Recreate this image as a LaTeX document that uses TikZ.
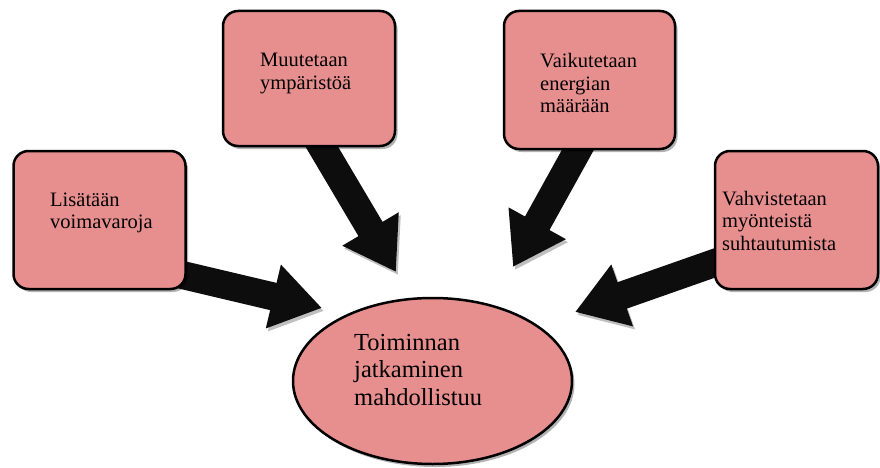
\documentclass[tikz,border=0pt]{standalone}
\usepackage{fontspec}
\setmainfont{Liberation Serif}
\usetikzlibrary{arrows.meta,shapes.geometric,shadows}
\definecolor{boxpink}{RGB}{231,143,143}
\newcommand{\mlines}[1]{\begin{tabular}[t]{@{}l@{}}#1\end{tabular}}
\begin{document}
\begin{tikzpicture}[x=1pt,y=-1pt,
  softshadow/.style={drop shadow={shadow xshift=2.5pt,shadow yshift=-3pt,fill=black,opacity=0.3}},
  stepbox/.style={draw=black,line width=2.5pt,fill=boxpink,rounded corners=15pt,
    minimum width=#1,minimum height=137pt,inner sep=0pt,softshadow},
  goalshape/.style={ellipse,draw=black,line width=2.5pt,fill=boxpink,
    minimum width=279pt,minimum height=166pt,inner sep=0pt,softshadow},
  boxtext/.style={anchor=base west,inner sep=0pt,font=\fontsize{20.5}{22.5}\selectfont},
  goaltext/.style={anchor=base west,inner sep=0pt,font=\fontsize{24.5}{27.5}\selectfont},
  bigarrow/.style={draw=black!95,line width=28pt,
    -{Triangle[length=50pt,width=62pt]},
    preaction={draw=black,opacity=0.25,transform canvas={shift={(2pt,-3pt)}}}}]
\useasboundingbox (0,0) rectangle (880,468);

% arrow tails start inside the boxes
\coordinate (s1) at (140,265);
\coordinate (s2) at (300,110);
\coordinate (s3) at (600,110);
\coordinate (s4) at (760,247);
\coordinate (e1) at (322,308);
\coordinate (e2) at (396,272);
\coordinate (e3) at (513,267);
\coordinate (e4) at (575,312);

\draw[bigarrow] (s1) -- (e1);
\draw[bigarrow] (s2) -- (e2);
\draw[bigarrow] (s3) -- (e3);
\draw[bigarrow] (s4) -- (e4);

% cause boxes
\node[stepbox=172pt,minimum height=138pt] (b1) at (99.5,220) {};
\node[stepbox=172pt,minimum height=135pt] (b2) at (309,78.5) {};
\node[stepbox=171pt,minimum height=138pt] (b3) at (589.5,80) {};
\node[stepbox=163pt,minimum height=138pt] (b4) at (796.5,220) {};

% result
\node[goalshape] (goal) at (432.5,381) {};

\node[boxtext] (t1) at (50,206) {\mlines{Lisätään\\voimavaroja}};
\node[boxtext] (t2) at (260,67) {\mlines{Muutetaan\\ympäristöä}};
\node[boxtext] (t3) at (540,68) {\mlines{Vaikutetaan\\energian\\määrään}};
\node[boxtext] (t4) at (722,205) {\mlines{Vahvistetaan\\myönteistä\\suhtautumista}};
\node[goaltext] (tg) at (354,350) {\mlines{Toiminnan\\jatkaminen\\mahdollistuu}};
\end{tikzpicture}
\end{document}
